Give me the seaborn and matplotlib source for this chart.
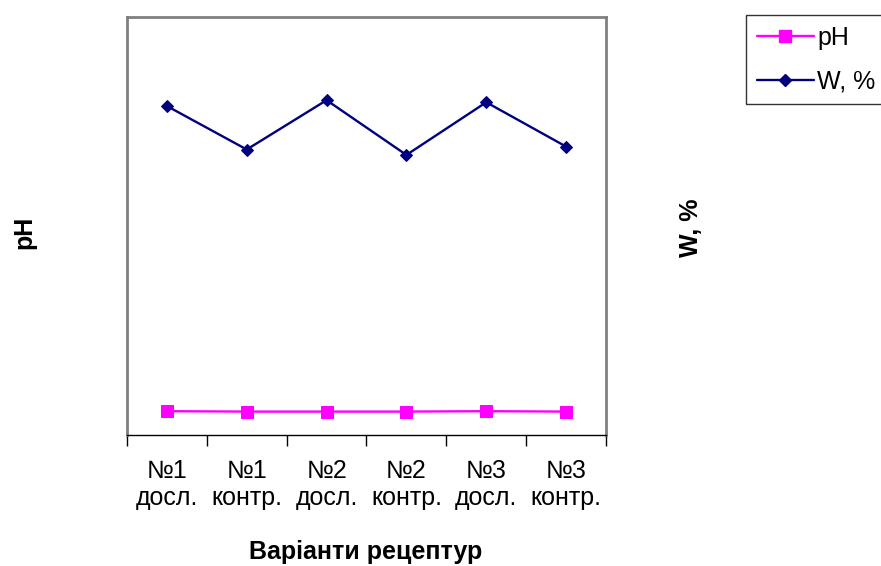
import numpy as np
import pandas as pd
import matplotlib
matplotlib.use("Agg")
import matplotlib.pyplot as plt
import seaborn as sns
from matplotlib.lines import Line2D

# Recipe variants (x categories)
variants = ["№1\nдосл.", "№1\nконтр.", "№2\nдосл.", "№2\nконтр.", "№3\nдосл.", "№3\nконтр."]
# Acidity and moisture content for each variant
ph_values = [5.7, 5.6, 5.6, 5.6, 5.7, 5.6]
w_values = [78.7, 68.3, 80.1, 67.0, 79.6, 69.0]

sns.set_theme(style="white")
plt.rcParams["font.family"] = ["Liberation Sans", "DejaVu Sans"]
plt.rcParams["text.color"] = "black"
plt.rcParams["xtick.color"] = "black"
plt.rcParams["axes.labelcolor"] = "black"

df = pd.DataFrame({
    "pos": list(range(len(variants))) * 2,
    "value": ph_values + w_values,
    "series": ["pH"] * len(variants) + ["W, %"] * len(variants),
})

fig = plt.figure(figsize=(8.81, 5.66), dpi=100)
ax = fig.add_axes([127 / 881, 1 - 435 / 566, (606 - 127) / 881, (435 - 17) / 566])

palette = {"pH": "#FF00FF", "W, %": "#000080"}
markers = {"pH": "s", "W, %": "D"}
sizes = {"pH": 8.5, "W, %": 6.5}
for name in ["pH", "W, %"]:
    sub = df[df["series"] == name]
    sns.lineplot(data=sub, x="pos", y="value", ax=ax, color=palette[name],
                 marker=markers[name], markersize=sizes[name],
                 markeredgecolor=palette[name], linewidth=1.7, legend=False)

ax.set_xlim(-0.5, len(variants) - 0.5)
ax.set_ylim(0, 100)
ax.set_yticks([])

# Category boundaries carry the tick marks; labels sit at the centres
ax.set_xticks(np.arange(-0.5, len(variants), 1.0))
ax.set_xticklabels([])
ax.tick_params(axis="x", which="major", direction="out", length=8, width=1,
               color="black", bottom=True)
ax.set_xticks(np.arange(len(variants)), minor=True)
ax.set_xticklabels(variants, minor=True, fontsize=18, linespacing=1.2)
ax.tick_params(axis="x", which="minor", length=0, pad=17)

for side in ["left", "top", "right"]:
    ax.spines[side].set_color("#808080")
    ax.spines[side].set_linewidth(2)
ax.spines["bottom"].set_color("black")
ax.spines["bottom"].set_linewidth(1)

ax.set_xlabel("")
ax.set_ylabel("")
fig.text(366 / 881, 1 - 552 / 566, "Варіанти рецептур", fontsize=18,
         fontweight="bold", ha="center", va="center")
fig.text(24 / 881, 1 - 232 / 566, "pH", rotation=90, fontsize=18,
         fontweight="bold", ha="center", va="center")
fig.text(691 / 881, 1 - 228 / 566, "W, %", rotation=90, fontsize=18,
         fontweight="bold", ha="center", va="center")

handles = [
    Line2D([], [], color=palette["pH"], marker="s", markersize=8.5, linewidth=1.7),
    Line2D([], [], color=palette["W, %"], marker="D", markersize=6.5, linewidth=1.7),
]
leg = fig.legend(handles, ["pH", "W, %"], loc="upper left",
                 bbox_to_anchor=(746 / 881, 1 - 15 / 566), fontsize=18,
                 frameon=True, fancybox=False, handlelength=2.3,
                 handletextpad=0.12, borderpad=0.42, labelspacing=0.8,
                 borderaxespad=0)
leg.get_frame().set_edgecolor("black")
leg.get_frame().set_linewidth(1)

fig.savefig("out.png", dpi=100)
